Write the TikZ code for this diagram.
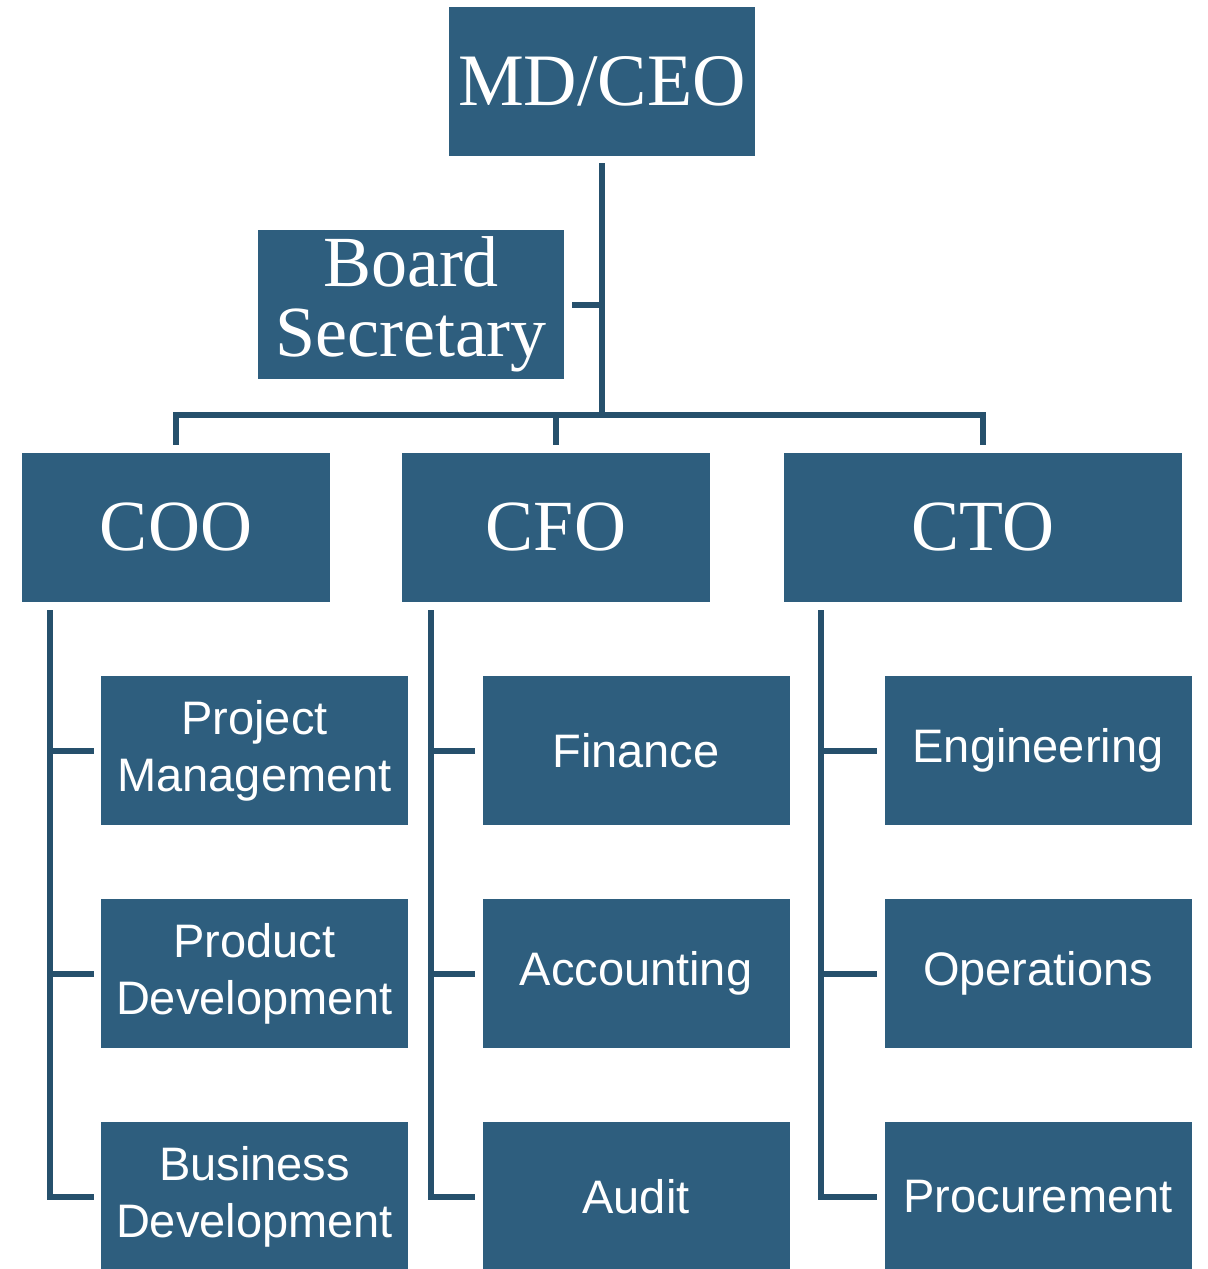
\documentclass[tikz,border=0pt]{standalone}
\usepackage{fontspec}
\setmainfont{Liberation Serif}
\setsansfont{Liberation Sans}
\definecolor{boxblue}{RGB}{46,94,126}
\definecolor{lineblue}{RGB}{38,80,108}
\begin{document}
\begin{tikzpicture}[x=0.5pt,y=-0.5pt,
  box/.style={fill=boxblue, draw=none, text=white, inner sep=0pt, align=center, minimum height=74.5pt},
  topbox/.style={box, font=\fontsize{36}{35}\selectfont, minimum width=154pt},
  dept/.style={box, font=\sffamily\fontsize{23.5}{28.5}\selectfont, minimum width=153.5pt},
  conn/.style={draw=lineblue, line width=3pt, line join=miter}]
\useasboundingbox (0,0) rectangle (1208,1269);
% top level
\node[topbox, minimum width=153pt, font=\fontsize{37}{37}\selectfont] (ceo) at (602,81.5) {MD/CEO};
\node[topbox, minimum width=153pt] (board) at (411,304.5) {Board\\Secretary};
\node[topbox] (coo) at (176,527.5) {COO};
\node[topbox] (cfo) at (556,527.5) {CFO};
\node[topbox, minimum width=199pt] (cto) at (983,527.5) {CTO};
% departments
\node[dept] (pm) at (254.5,750.5) {Project\\Management};
\node[dept] (pd) at (254.5,973.5) {Product\\Development};
\node[dept] (bd) at (254.5,1196.5) {Business\\Development};
\node[dept] (fin) at (636,750.5) {Finance};
\node[dept] (acc) at (636,973.5) {Accounting};
\node[dept] (aud) at (636,1196.5) {Audit};
\node[dept] (eng) at (1038,750.5) {Engineering};
\node[dept] (ops) at (1038,973.5) {Operations};
\node[dept] (proc) at (1038,1196.5) {Procurement};
% connector points
\coordinate (bus) at (602,415);
\coordinate (t1) at (50,610);
\coordinate (t2) at (431,610);
\coordinate (t3) at (821,610);
% top connectors
\draw[conn] ([yshift=-3.5pt]ceo.south) -- (bus);
\draw[conn] ([xshift=4pt]board.east) -- (board.east -| ceo.south);
\draw[conn] ([yshift=4pt]coo.north) |- (bus) -| ([yshift=4pt]cto.north);
\draw[conn] ([yshift=4pt]cfo.north) -- (cfo.north |- bus);
% COO column
\draw[conn] (t1) |- ([xshift=-3.5pt]bd.west);
\draw[conn] (t1 |- pm.west) -- ([xshift=-3.5pt]pm.west);
\draw[conn] (t1 |- pd.west) -- ([xshift=-3.5pt]pd.west);
% CFO column
\draw[conn] (t2) |- ([xshift=-3.5pt]aud.west);
\draw[conn] (t2 |- fin.west) -- ([xshift=-3.5pt]fin.west);
\draw[conn] (t2 |- acc.west) -- ([xshift=-3.5pt]acc.west);
% CTO column
\draw[conn] (t3) |- ([xshift=-3.5pt]proc.west);
\draw[conn] (t3 |- eng.west) -- ([xshift=-3.5pt]eng.west);
\draw[conn] (t3 |- ops.west) -- ([xshift=-3.5pt]ops.west);
\end{tikzpicture}
\end{document}
